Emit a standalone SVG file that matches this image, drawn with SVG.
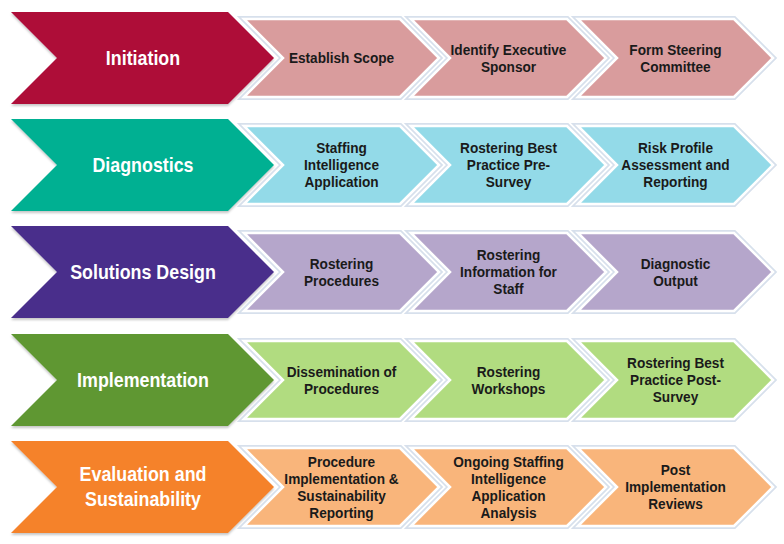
<svg xmlns="http://www.w3.org/2000/svg" width="784" height="544" viewBox="0 0 784 544">
<defs>
<filter id="sh" x="-5%" y="-5%" width="110%" height="120%">
<feDropShadow dx="0" dy="2" stdDeviation="1.2" flood-color="#000" flood-opacity="0.22"/>
</filter>
<polygon id="big" points="11,0 228,0 274,46 228,92 11,92 57,46"/>
<polygon id="sm" points="0,0 156,0 195,39 156,78 0,78 39,39"/>
</defs>
<style>
.bigw{fill:none;stroke:#fff;stroke-width:5}
.big{filter:url(#sh)}
.smo{fill:none;stroke:#d7e0ec;stroke-width:6;stroke-linejoin:miter}
.smi{stroke:#fff;stroke-width:2.5;stroke-linejoin:miter}
.bt{font-family:"Liberation Sans",Arial,sans-serif;font-weight:bold;font-size:21px;fill:#fff;text-anchor:middle}
.st{font-family:"Liberation Sans",Arial,sans-serif;font-weight:bold;font-size:15.5px;fill:#1a1a1a;text-anchor:middle}
</style>

<g id="row-initiation" transform="translate(0,12)">
<g id="initiation-steps">
<use href="#sm" x="244" y="7" class="smo"/><use href="#sm" x="244" y="7" class="smi" fill="#d99c9d"/>
<use href="#sm" x="411" y="7" class="smo"/><use href="#sm" x="411" y="7" class="smi" fill="#d99c9d"/>
<use href="#sm" x="578" y="7" class="smo"/><use href="#sm" x="578" y="7" class="smi" fill="#d99c9d"/>
<g transform="translate(341.5,0) scale(0.88,1)"><text class="st" y="51.5">Establish Scope</text></g>
<g transform="translate(508.5,0) scale(0.88,1)"><text class="st" y="43">Identify Executive</text><text class="st" y="60">Sponsor</text></g>
<g transform="translate(675.5,0) scale(0.88,1)"><text class="st" y="43">Form Steering</text><text class="st" y="60">Committee</text></g>
</g>
<g id="initiation"><use href="#big" class="bigw"/><use href="#big" class="big" fill="#ae0a37"/><g transform="translate(143,0) scale(0.85,1)"><text class="bt" y="53">Initiation</text></g></g>
</g>

<g id="row-diagnostics" transform="translate(0,119)">
<g id="diagnostics-steps">
<use href="#sm" x="244" y="7" class="smo"/><use href="#sm" x="244" y="7" class="smi" fill="#93dae8"/>
<use href="#sm" x="411" y="7" class="smo"/><use href="#sm" x="411" y="7" class="smi" fill="#93dae8"/>
<use href="#sm" x="578" y="7" class="smo"/><use href="#sm" x="578" y="7" class="smi" fill="#93dae8"/>
<g transform="translate(341.5,0) scale(0.88,1)"><text class="st" y="34.5">Staffing</text><text class="st" y="51.5">Intelligence</text><text class="st" y="68.5">Application</text></g>
<g transform="translate(508.5,0) scale(0.88,1)"><text class="st" y="34.5">Rostering Best</text><text class="st" y="51.5">Practice Pre-</text><text class="st" y="68.5">Survey</text></g>
<g transform="translate(675.5,0) scale(0.88,1)"><text class="st" y="34.5">Risk Profile</text><text class="st" y="51.5">Assessment and</text><text class="st" y="68.5">Reporting</text></g>
</g>
<g id="diagnostics"><use href="#big" class="bigw"/><use href="#big" class="big" fill="#00b092"/><g transform="translate(143,0) scale(0.85,1)"><text class="bt" y="53">Diagnostics</text></g></g>
</g>

<g id="row-solutions" transform="translate(0,226)">
<g id="solutions-steps">
<use href="#sm" x="244" y="7" class="smo"/><use href="#sm" x="244" y="7" class="smi" fill="#b5a6cb"/>
<use href="#sm" x="411" y="7" class="smo"/><use href="#sm" x="411" y="7" class="smi" fill="#b5a6cb"/>
<use href="#sm" x="578" y="7" class="smo"/><use href="#sm" x="578" y="7" class="smi" fill="#b5a6cb"/>
<g transform="translate(341.5,0) scale(0.88,1)"><text class="st" y="43">Rostering</text><text class="st" y="60">Procedures</text></g>
<g transform="translate(508.5,0) scale(0.88,1)"><text class="st" y="34.5">Rostering</text><text class="st" y="51.5">Information for</text><text class="st" y="68.5">Staff</text></g>
<g transform="translate(675.5,0) scale(0.88,1)"><text class="st" y="43">Diagnostic</text><text class="st" y="60">Output</text></g>
</g>
<g id="solutions-design"><use href="#big" class="bigw"/><use href="#big" class="big" fill="#482d8b"/><g transform="translate(143,0) scale(0.85,1)"><text class="bt" y="53">Solutions Design</text></g></g>
</g>

<g id="row-implementation" transform="translate(0,334)">
<g id="implementation-steps">
<use href="#sm" x="244" y="7" class="smo"/><use href="#sm" x="244" y="7" class="smi" fill="#b1dc80"/>
<use href="#sm" x="411" y="7" class="smo"/><use href="#sm" x="411" y="7" class="smi" fill="#b1dc80"/>
<use href="#sm" x="578" y="7" class="smo"/><use href="#sm" x="578" y="7" class="smi" fill="#b1dc80"/>
<g transform="translate(341.5,0) scale(0.88,1)"><text class="st" y="43">Dissemination of</text><text class="st" y="60">Procedures</text></g>
<g transform="translate(508.5,0) scale(0.88,1)"><text class="st" y="43">Rostering</text><text class="st" y="60">Workshops</text></g>
<g transform="translate(675.5,0) scale(0.88,1)"><text class="st" y="34.5">Rostering Best</text><text class="st" y="51.5">Practice Post-</text><text class="st" y="68.5">Survey</text></g>
</g>
<g id="implementation"><use href="#big" class="bigw"/><use href="#big" class="big" fill="#5e9732"/><g transform="translate(143,0) scale(0.85,1)"><text class="bt" y="53">Implementation</text></g></g>
</g>

<g id="row-evaluation" transform="translate(0,441)">
<g id="evaluation-steps">
<use href="#sm" x="244" y="7" class="smo"/><use href="#sm" x="244" y="7" class="smi" fill="#f9b57b"/>
<use href="#sm" x="411" y="7" class="smo"/><use href="#sm" x="411" y="7" class="smi" fill="#f9b57b"/>
<use href="#sm" x="578" y="7" class="smo"/><use href="#sm" x="578" y="7" class="smi" fill="#f9b57b"/>
<g transform="translate(341.5,0) scale(0.88,1)"><text class="st" y="26">Procedure</text><text class="st" y="43">Implementation &amp;</text><text class="st" y="60">Sustainability</text><text class="st" y="77">Reporting</text></g>
<g transform="translate(508.5,0) scale(0.88,1)"><text class="st" y="26">Ongoing Staffing</text><text class="st" y="43">Intelligence</text><text class="st" y="60">Application</text><text class="st" y="77">Analysis</text></g>
<g transform="translate(675.5,0) scale(0.88,1)"><text class="st" y="34.5">Post</text><text class="st" y="51.5">Implementation</text><text class="st" y="68.5">Reviews</text></g>
</g>
<g id="evaluation"><use href="#big" class="bigw"/><use href="#big" class="big" fill="#f5822a"/><g transform="translate(143,0) scale(0.85,1)"><text class="bt" y="40">Evaluation and</text><text class="bt" y="65">Sustainability</text></g></g>
</g>
</svg>
